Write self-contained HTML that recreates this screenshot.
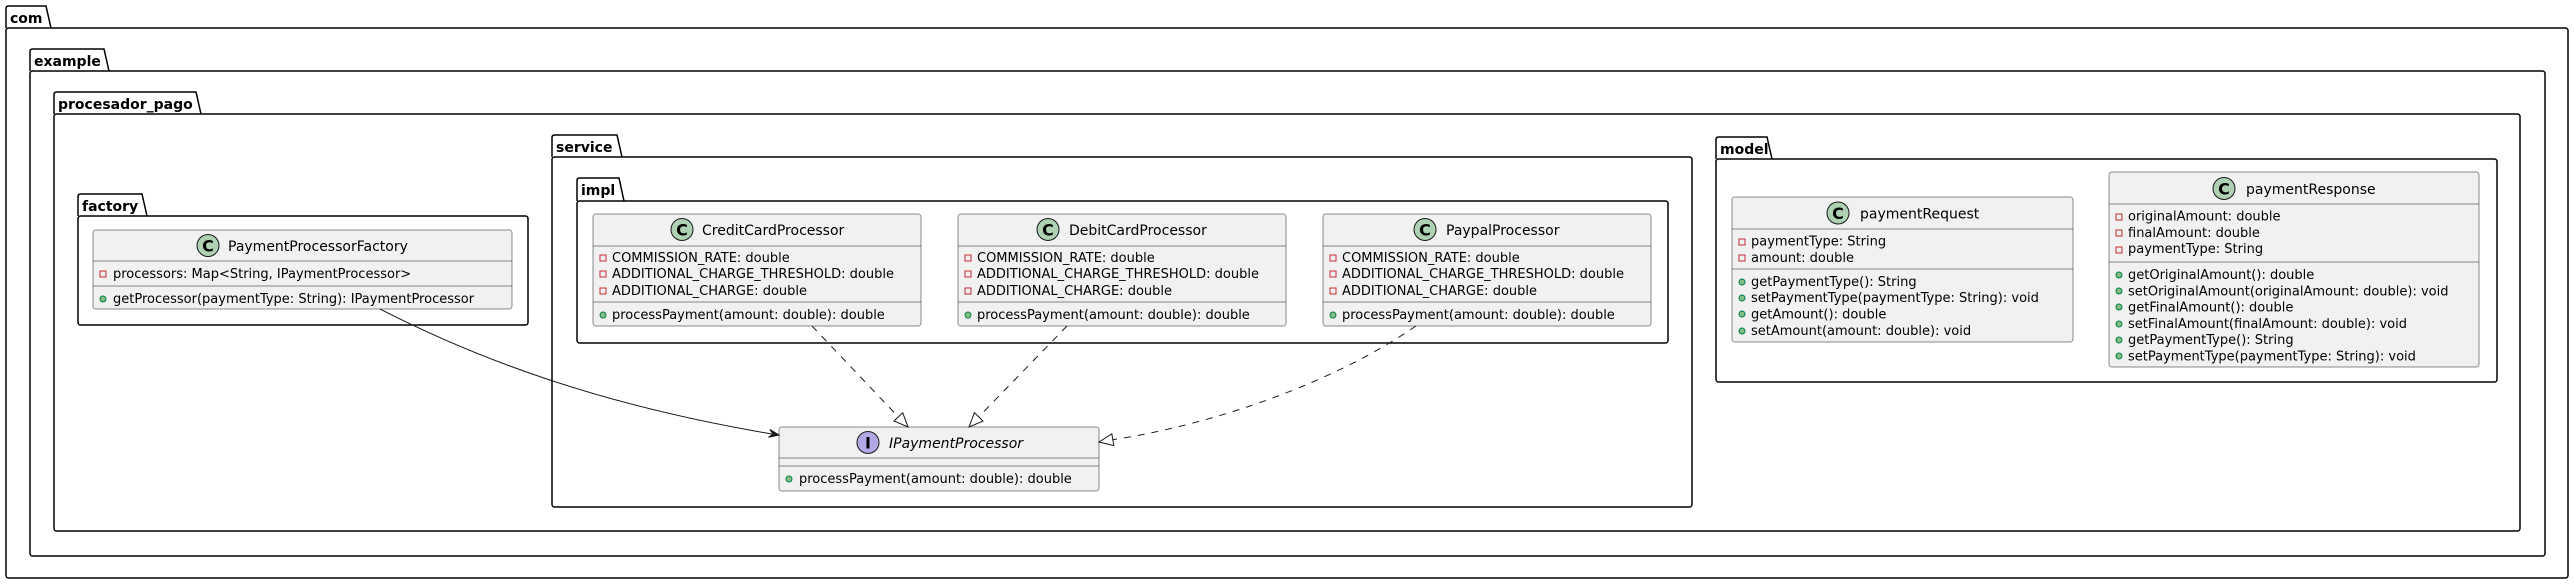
<!DOCTYPE html>
<html><head><meta charset="utf-8"><style>
html,body{margin:0;padding:0;background:#fff;}
svg{display:block;}
text{font-family:"DejaVu Sans","Liberation Sans",sans-serif;fill:#000;}
.pk{font-weight:bold;font-size:14px;}
.cn{font-size:14px;}
.m{font-size:13px;}
.pkg{fill:none;stroke:#000;stroke-width:1.5;}
.cls{fill:#F1F1F1;stroke:#181818;stroke-width:0.5;}
.sep{stroke:#181818;stroke-width:0.5;}
.priv{fill:none;stroke:#C82930;stroke-width:1;}
.pub{fill:#84BE84;stroke:#038048;stroke-width:1;}
.ci{fill:#ADD1B2;stroke:#181818;stroke-width:1;}
.ii{fill:#B4A7E5;stroke:#181818;stroke-width:1;}
.lt{font-weight:bold;font-size:16px;}
</style></head><body>
<svg width="2574" height="585" viewBox="0 0 2574 585" xmlns="http://www.w3.org/2000/svg">
<g class="pkg">
<path d="M6,28 L6,8.5 Q6,6 8.5,6 L46,6 L51,28"/><rect x="6" y="28" width="2562" height="550" rx="2.5"/>
<path d="M30,71 L30,51.5 Q30,49 32.5,49 L104,49 L109,71"/><rect x="30" y="71" width="2515" height="485" rx="2.5"/>
<path d="M54,114 L54,94.5 Q54,92 56.5,92 L196,92 L201,114"/><rect x="54" y="114" width="2466" height="417" rx="2.5"/>
<path d="M78,216 L78,196.5 Q78,194 80.5,194 L142,194 L147,216"/><rect x="78" y="216" width="450" height="109" rx="2.5"/>
<path d="M552,157 L552,137.5 Q552,135 554.5,135 L617,135 L622,157"/><rect x="552" y="157" width="1140" height="350" rx="2.5"/>
<path d="M577,201 L577,180.5 Q577,178 579.5,178 L619,178 L624,201"/><rect x="577" y="201" width="1091" height="142" rx="2.5"/>
<path d="M1716,159 L1716,139.5 Q1716,137 1718.5,137 L1767,137 L1772,159"/><rect x="1716" y="159" width="781" height="223" rx="2.5"/>
</g>
<text class="pk" x="10" y="23">com</text>
<text class="pk" x="34" y="66">example</text>
<text class="pk" x="58" y="109">procesador_pago</text>
<text class="pk" x="82" y="211">factory</text>
<text class="pk" x="556" y="152">service</text>
<text class="pk" x="581" y="195">impl</text>
<text class="pk" x="1720" y="154">model</text>

<rect class="cls" x="93" y="230" width="419" height="79" rx="2.5"/>
<line class="sep" x1="93" y1="261" x2="512" y2="261"/><line class="sep" x1="93" y1="286" x2="512" y2="286"/>
<circle class="ci" cx="208" cy="245.5" r="11"/><text class="lt" x="208" y="251.5" text-anchor="middle">C</text>
<text class="cn" x="228" y="251">PaymentProcessorFactory</text>
<rect class="priv" x="100" y="271" width="6" height="6"/><text class="m" x="113" y="278">processors: Map&lt;String, IPaymentProcessor&gt;</text>
<circle class="pub" cx="103" cy="299" r="3"/><text class="m" x="113" y="303">getProcessor(paymentType: String): IPaymentProcessor</text>

<rect class="cls" x="593" y="214" width="328" height="112" rx="2.5"/>
<line class="sep" x1="593" y1="246" x2="921" y2="246"/><line class="sep" x1="593" y1="302" x2="921" y2="302"/>
<circle class="ci" cx="682" cy="229.5" r="11"/><text class="lt" x="682" y="235.5" text-anchor="middle">C</text>
<text class="cn" x="702" y="235">CreditCardProcessor</text>
<rect class="priv" x="600" y="255" width="6" height="6"/><text class="m" x="612" y="262">COMMISSION_RATE: double</text>
<rect class="priv" x="600" y="271" width="6" height="6"/><text class="m" x="612" y="278">ADDITIONAL_CHARGE_THRESHOLD: double</text>
<rect class="priv" x="600" y="288" width="6" height="6"/><text class="m" x="612" y="295">ADDITIONAL_CHARGE: double</text>
<circle class="pub" cx="603" cy="315" r="3"/><text class="m" x="612" y="319">processPayment(amount: double): double</text>

<rect class="cls" x="958" y="214" width="328" height="112" rx="2.5"/>
<line class="sep" x1="958" y1="246" x2="1286" y2="246"/><line class="sep" x1="958" y1="302" x2="1286" y2="302"/>
<circle class="ci" cx="1048" cy="229.5" r="11"/><text class="lt" x="1048" y="235.5" text-anchor="middle">C</text>
<text class="cn" x="1069" y="235">DebitCardProcessor</text>
<rect class="priv" x="965" y="255" width="6" height="6"/><text class="m" x="977" y="262">COMMISSION_RATE: double</text>
<rect class="priv" x="965" y="271" width="6" height="6"/><text class="m" x="977" y="278">ADDITIONAL_CHARGE_THRESHOLD: double</text>
<rect class="priv" x="965" y="288" width="6" height="6"/><text class="m" x="977" y="295">ADDITIONAL_CHARGE: double</text>
<circle class="pub" cx="968" cy="315" r="3"/><text class="m" x="977" y="319">processPayment(amount: double): double</text>

<rect class="cls" x="1323" y="214" width="328" height="112" rx="2.5"/>
<line class="sep" x1="1323" y1="246" x2="1651" y2="246"/><line class="sep" x1="1323" y1="302" x2="1651" y2="302"/>
<circle class="ci" cx="1425" cy="229.5" r="11"/><text class="lt" x="1425" y="235.5" text-anchor="middle">C</text>
<text class="cn" x="1446" y="235">PaypalProcessor</text>
<rect class="priv" x="1330" y="255" width="6" height="6"/><text class="m" x="1342" y="262">COMMISSION_RATE: double</text>
<rect class="priv" x="1330" y="271" width="6" height="6"/><text class="m" x="1342" y="278">ADDITIONAL_CHARGE_THRESHOLD: double</text>
<rect class="priv" x="1330" y="288" width="6" height="6"/><text class="m" x="1342" y="295">ADDITIONAL_CHARGE: double</text>
<circle class="pub" cx="1333" cy="315" r="3"/><text class="m" x="1342" y="319">processPayment(amount: double): double</text>

<rect class="cls" x="779" y="427" width="320" height="64" rx="2.5"/>
<line class="sep" x1="779" y1="458" x2="1099" y2="458"/><line class="sep" x1="779" y1="466" x2="1099" y2="466"/>
<circle class="ii" cx="868" cy="442.5" r="11"/><text class="lt" x="868" y="448.5" text-anchor="middle">I</text>
<text class="cn" x="889" y="448" font-style="italic">IPaymentProcessor</text>
<circle class="pub" cx="789" cy="479" r="3"/><text class="m" x="799" y="483">processPayment(amount: double): double</text>

<rect class="cls" x="1732" y="197" width="341" height="145" rx="2.5"/>
<line class="sep" x1="1732" y1="229" x2="2073" y2="229"/><line class="sep" x1="1732" y1="269" x2="2073" y2="269"/>
<circle class="ci" cx="1838" cy="213" r="11"/><text class="lt" x="1838" y="219" text-anchor="middle">C</text>
<text class="cn" x="1860" y="218.5">paymentRequest</text>
<rect class="priv" x="1739" y="239" width="6" height="6"/><text class="m" x="1751" y="245.5">paymentType: String</text>
<rect class="priv" x="1739" y="255" width="6" height="6"/><text class="m" x="1751" y="262">amount: double</text>
<circle class="pub" cx="1742" cy="282" r="3"/><text class="m" x="1751" y="286">getPaymentType(): String</text>
<circle class="pub" cx="1742" cy="298" r="3"/><text class="m" x="1751" y="302">setPaymentType(paymentType: String): void</text>
<circle class="pub" cx="1742" cy="314" r="3"/><text class="m" x="1751" y="318.5">getAmount(): double</text>
<circle class="pub" cx="1742" cy="331" r="3"/><text class="m" x="1751" y="335">setAmount(amount: double): void</text>

<rect class="cls" x="2109" y="172" width="370" height="195" rx="2.5"/>
<line class="sep" x1="2109" y1="204" x2="2479" y2="204"/><line class="sep" x1="2109" y1="262" x2="2479" y2="262"/>
<circle class="ci" cx="2224" cy="188.5" r="11"/><text class="lt" x="2224" y="194.5" text-anchor="middle">C</text>
<text class="cn" x="2246" y="194">paymentResponse</text>
<rect class="priv" x="2116" y="214" width="6" height="6"/><text class="m" x="2128" y="220.5">originalAmount: double</text>
<rect class="priv" x="2116" y="230" width="6" height="6"/><text class="m" x="2128" y="237">finalAmount: double</text>
<rect class="priv" x="2116" y="247" width="6" height="6"/><text class="m" x="2128" y="253">paymentType: String</text>
<circle class="pub" cx="2119" cy="275" r="3"/><text class="m" x="2128" y="279">getOriginalAmount(): double</text>
<circle class="pub" cx="2119" cy="291" r="3"/><text class="m" x="2128" y="295.5">setOriginalAmount(originalAmount: double): void</text>
<circle class="pub" cx="2119" cy="307" r="3"/><text class="m" x="2128" y="311.5">getFinalAmount(): double</text>
<circle class="pub" cx="2119" cy="324" r="3"/><text class="m" x="2128" y="328">setFinalAmount(finalAmount: double): void</text>
<circle class="pub" cx="2119" cy="340" r="3"/><text class="m" x="2128" y="344">getPaymentType(): String</text>
<circle class="pub" cx="2119" cy="356" r="3"/><text class="m" x="2128" y="360.5">setPaymentType(paymentType: String): void</text>

<path d="M380,309 C480,360 600,405 772,434" fill="none" stroke="#181818" stroke-width="1"/>
<polygon points="779,435 768.5,437.3 773.1,434 769.8,429.4" fill="#181818" stroke="#181818" stroke-width="1"/>
<g fill="none" stroke="#181818" stroke-width="1" stroke-dasharray="7,7">
<line x1="812" y1="326" x2="898.4" y2="416.9"/>
<line x1="1067" y1="326" x2="978.7" y2="416.9"/>
<path d="M1416,326 C1330,385 1210,425 1112.8,439.7"/>
</g>
<g fill="none" stroke="#181818" stroke-width="1">
<polygon points="908,427 894,421 902.7,412.8"/>
<polygon points="969,427 974.4,412.7 983,421.1"/>
<polygon points="1099,442 1111.8,433.8 1113.8,445.6"/>
</g>
</svg>
</body></html>
